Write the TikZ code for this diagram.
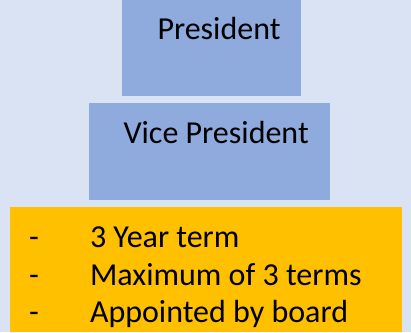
\documentclass[tikz,border=0pt]{standalone}
\usepackage{fontspec}
\setmainfont{Carlito}
\definecolor{bgblue}{HTML}{DAE3F3}
\definecolor{boxblue}{HTML}{8FAADC}
\definecolor{boxorange}{HTML}{FFC000}
\begin{document}
\begin{tikzpicture}[x=1pt,y=-1pt,
  box/.style={draw=none,inner sep=0pt,outer sep=0pt,anchor=north west},
  lbl/.style={anchor=base west,inner sep=0pt,outer sep=0pt,font=\fontsize{32}{38.4}\selectfont}]
\fill[bgblue] (0,0) rectangle (411,332);
\useasboundingbox (0,0) rectangle (411,332);
\node[box,fill=boxblue,minimum width=179pt,minimum height=96pt] (pres) at (122,0) {};
\node[box,fill=boxblue,minimum width=241pt,minimum height=97pt] (vp) at (89,103) {};
\node[box,fill=boxorange,minimum width=392pt,minimum height=125pt] (info) at (10,207) {};
\node[lbl] (prestext) at (157.5,39) {President};
\node[lbl] (vptext) at (123.5,143) {Vice President};
\node[lbl] (d1) at (29,247.3) {-};
\node[lbl] (d2) at (29,285) {-};
\node[lbl] (d3) at (29,322.7) {-};
\node[lbl] (t1) at (90,247.3) {3 Year term};
\node[lbl] (t2) at (90,285) {Maximum of 3 terms};
\node[lbl] (t3) at (90,322.7) {Appointed by board};
\end{tikzpicture}
\end{document}
